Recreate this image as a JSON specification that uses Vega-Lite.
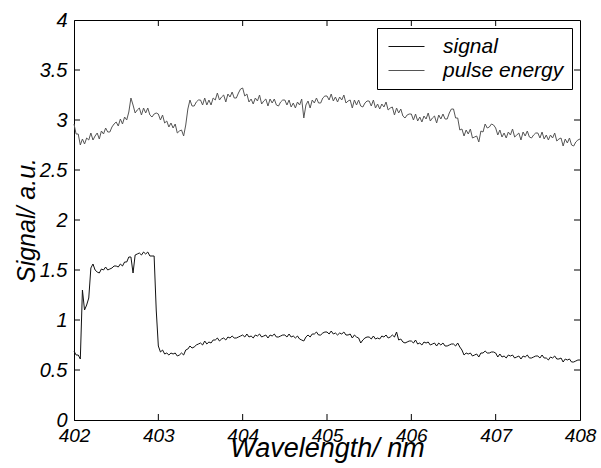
{
"$schema":"https://vega.github.io/schema/vega-lite/v6.json",
"width":506,"height":400,"autosize":"none",
"padding":{"left":74,"top":20,"right":21,"bottom":48},
"background":"white",
"config":{
"view":{"stroke":"black","strokeWidth":1},
"font":"Liberation Sans",
"axis":{"labelFont":"Liberation Sans","labelFontStyle":"italic","labelFontSize":20,"labelColor":"black","labelFlush":false,"labelOverlap":false,"titleFont":"Liberation Sans","titleFontStyle":"italic","titleFontWeight":"normal","titleFontSize":26,"titleColor":"black","domainColor":"black","ticks":false,"grid":false},
"legend":{"orient":"top-right","offset":8,"strokeColor":"black","fillColor":"white","padding":8,"symbolOffset":11,"symbolType":"M-1.8,0H1.8","symbolStrokeWidth":1,"symbolSize":400,"labelFont":"Liberation Sans","labelFontStyle":"italic","labelFontSize":21,"labelColor":"black","labelOffset":26,"rowPadding":2,"cornerRadius":0,"zindex":2}
},
"datasets":{
"bt":[{"x":403,"y":0},{"x":404,"y":0},{"x":405,"y":0},{"x":406,"y":0},{"x":407,"y":0}],
"tt":[{"x":403,"y":4},{"x":404,"y":4},{"x":405,"y":4},{"x":406,"y":4},{"x":407,"y":4}],
"lt":[{"x":402,"y":0.5},{"x":402,"y":1},{"x":402,"y":1.5},{"x":402,"y":2},{"x":402,"y":2.5},{"x":402,"y":3},{"x":402,"y":3.5}],
"rt":[{"x":408,"y":0.5},{"x":408,"y":1},{"x":408,"y":1.5},{"x":408,"y":2},{"x":408,"y":2.5},{"x":408,"y":3},{"x":408,"y":3.5}],
"spec":[
{"w":402.000,"s":0.69,"p":2.96},{"w":402.025,"s":0.65,"p":2.86},{"w":402.050,"s":0.65,"p":2.86},{"w":402.075,"s":0.61,"p":2.75},{"w":402.100,"s":1.30,"p":2.81},
{"w":402.125,"s":1.10,"p":2.76},{"w":402.150,"s":1.15,"p":2.82},{"w":402.175,"s":1.22,"p":2.80},{"w":402.200,"s":1.52,"p":2.87},{"w":402.225,"s":1.56,"p":2.80},
{"w":402.250,"s":1.50,"p":2.84},{"w":402.275,"s":1.48,"p":2.87},{"w":402.300,"s":1.47,"p":2.81},{"w":402.325,"s":1.51,"p":2.89},{"w":402.350,"s":1.50,"p":2.86},
{"w":402.375,"s":1.53,"p":2.92},{"w":402.400,"s":1.50,"p":2.88},{"w":402.425,"s":1.51,"p":2.88},{"w":402.450,"s":1.52,"p":2.93},{"w":402.475,"s":1.54,"p":2.96},
{"w":402.500,"s":1.54,"p":2.98},{"w":402.525,"s":1.53,"p":2.94},{"w":402.550,"s":1.56,"p":3.01},{"w":402.575,"s":1.54,"p":2.96},{"w":402.600,"s":1.58,"p":3.03},
{"w":402.625,"s":1.58,"p":3.00},{"w":402.650,"s":1.63,"p":3.08},{"w":402.675,"s":1.63,"p":3.22},{"w":402.700,"s":1.47,"p":3.15},{"w":402.725,"s":1.65,"p":3.07},
{"w":402.750,"s":1.66,"p":3.10},{"w":402.775,"s":1.67,"p":3.12},{"w":402.800,"s":1.65,"p":3.05},{"w":402.825,"s":1.68,"p":3.12},{"w":402.850,"s":1.66,"p":3.07},
{"w":402.875,"s":1.68,"p":3.12},{"w":402.900,"s":1.64,"p":3.05},{"w":402.925,"s":1.64,"p":3.03},{"w":402.950,"s":1.64,"p":3.06},{"w":402.975,"s":1.10,"p":3.07},
{"w":403.000,"s":0.74,"p":3.06},{"w":403.025,"s":0.68,"p":3.00},{"w":403.050,"s":0.70,"p":3.05},{"w":403.075,"s":0.66,"p":2.97},{"w":403.100,"s":0.67,"p":2.99},
{"w":403.125,"s":0.65,"p":2.93},{"w":403.150,"s":0.67,"p":2.97},{"w":403.175,"s":0.66,"p":2.92},{"w":403.200,"s":0.67,"p":2.96},{"w":403.225,"s":0.64,"p":2.87},
{"w":403.250,"s":0.65,"p":2.89},{"w":403.275,"s":0.67,"p":2.90},{"w":403.300,"s":0.65,"p":2.84},{"w":403.325,"s":0.70,"p":2.95},{"w":403.350,"s":0.71,"p":3.11},
{"w":403.375,"s":0.74,"p":3.20},{"w":403.400,"s":0.72,"p":3.14},{"w":403.425,"s":0.73,"p":3.14},{"w":403.450,"s":0.75,"p":3.18},{"w":403.475,"s":0.76,"p":3.20},
{"w":403.500,"s":0.77,"p":3.20},{"w":403.525,"s":0.75,"p":3.15},{"w":403.550,"s":0.79,"p":3.22},{"w":403.575,"s":0.76,"p":3.15},{"w":403.600,"s":0.78,"p":3.20},
{"w":403.625,"s":0.77,"p":3.15},{"w":403.650,"s":0.80,"p":3.22},{"w":403.675,"s":0.80,"p":3.20},{"w":403.700,"s":0.82,"p":3.27},{"w":403.725,"s":0.79,"p":3.20},
{"w":403.750,"s":0.81,"p":3.23},{"w":403.775,"s":0.82,"p":3.25},{"w":403.800,"s":0.80,"p":3.18},{"w":403.825,"s":0.83,"p":3.26},{"w":403.850,"s":0.82,"p":3.23},
{"w":403.875,"s":0.84,"p":3.28},{"w":403.900,"s":0.82,"p":3.22},{"w":403.925,"s":0.82,"p":3.22},{"w":403.950,"s":0.83,"p":3.27},{"w":403.975,"s":0.84,"p":3.31},
{"w":404.000,"s":0.85,"p":3.32},{"w":404.025,"s":0.83,"p":3.24},{"w":404.050,"s":0.86,"p":3.26},{"w":404.075,"s":0.83,"p":3.18},{"w":404.100,"s":0.84,"p":3.21},
{"w":404.125,"s":0.82,"p":3.16},{"w":404.150,"s":0.85,"p":3.22},{"w":404.175,"s":0.84,"p":3.19},{"w":404.200,"s":0.86,"p":3.25},{"w":404.225,"s":0.83,"p":3.16},
{"w":404.250,"s":0.84,"p":3.19},{"w":404.275,"s":0.85,"p":3.21},{"w":404.300,"s":0.82,"p":3.14},{"w":404.325,"s":0.85,"p":3.21},{"w":404.350,"s":0.84,"p":3.17},
{"w":404.375,"s":0.86,"p":3.21},{"w":404.400,"s":0.83,"p":3.15},{"w":404.425,"s":0.83,"p":3.14},{"w":404.450,"s":0.84,"p":3.18},{"w":404.475,"s":0.85,"p":3.20},
{"w":404.500,"s":0.85,"p":3.20},{"w":404.525,"s":0.83,"p":3.15},{"w":404.550,"s":0.86,"p":3.20},{"w":404.575,"s":0.83,"p":3.13},{"w":404.600,"s":0.84,"p":3.17},
{"w":404.625,"s":0.82,"p":3.12},{"w":404.650,"s":0.84,"p":3.18},{"w":404.675,"s":0.81,"p":3.15},{"w":404.700,"s":0.80,"p":3.21},{"w":404.725,"s":0.79,"p":3.02},
{"w":404.750,"s":0.83,"p":3.15},{"w":404.775,"s":0.85,"p":3.19},{"w":404.800,"s":0.83,"p":3.12},{"w":404.825,"s":0.86,"p":3.20},{"w":404.850,"s":0.86,"p":3.17},
{"w":404.875,"s":0.88,"p":3.22},{"w":404.900,"s":0.85,"p":3.17},{"w":404.925,"s":0.85,"p":3.17},{"w":404.950,"s":0.87,"p":3.22},{"w":404.975,"s":0.88,"p":3.24},
{"w":405.000,"s":0.88,"p":3.24},{"w":405.025,"s":0.86,"p":3.20},{"w":405.050,"s":0.89,"p":3.26},{"w":405.075,"s":0.86,"p":3.19},{"w":405.100,"s":0.87,"p":3.23},
{"w":405.125,"s":0.85,"p":3.18},{"w":405.150,"s":0.87,"p":3.23},{"w":405.175,"s":0.86,"p":3.20},{"w":405.200,"s":0.88,"p":3.25},{"w":405.225,"s":0.85,"p":3.17},
{"w":405.250,"s":0.85,"p":3.19},{"w":405.275,"s":0.86,"p":3.20},{"w":405.300,"s":0.82,"p":3.12},{"w":405.325,"s":0.85,"p":3.20},{"w":405.350,"s":0.83,"p":3.15},
{"w":405.375,"s":0.82,"p":3.20},{"w":405.400,"s":0.77,"p":3.14},{"w":405.425,"s":0.80,"p":3.13},{"w":405.450,"s":0.82,"p":3.17},{"w":405.475,"s":0.83,"p":3.19},
{"w":405.500,"s":0.83,"p":3.19},{"w":405.525,"s":0.81,"p":3.14},{"w":405.550,"s":0.84,"p":3.20},{"w":405.575,"s":0.81,"p":3.12},{"w":405.600,"s":0.82,"p":3.16},
{"w":405.625,"s":0.81,"p":3.11},{"w":405.650,"s":0.84,"p":3.16},{"w":405.675,"s":0.83,"p":3.13},{"w":405.700,"s":0.85,"p":3.18},{"w":405.725,"s":0.82,"p":3.10},
{"w":405.750,"s":0.83,"p":3.12},{"w":405.775,"s":0.85,"p":3.13},{"w":405.800,"s":0.83,"p":3.05},{"w":405.825,"s":0.88,"p":3.12},{"w":405.850,"s":0.80,"p":3.07},
{"w":405.875,"s":0.81,"p":3.11},{"w":405.900,"s":0.78,"p":3.04},{"w":405.925,"s":0.77,"p":3.02},{"w":405.950,"s":0.78,"p":3.05},{"w":405.975,"s":0.79,"p":3.06},
{"w":406.000,"s":0.79,"p":3.06},{"w":406.025,"s":0.77,"p":3.00},{"w":406.050,"s":0.80,"p":3.06},{"w":406.075,"s":0.76,"p":2.99},{"w":406.100,"s":0.77,"p":3.03},
{"w":406.125,"s":0.75,"p":2.98},{"w":406.150,"s":0.78,"p":3.04},{"w":406.175,"s":0.77,"p":3.01},{"w":406.200,"s":0.78,"p":3.07},{"w":406.225,"s":0.75,"p":2.99},
{"w":406.250,"s":0.76,"p":3.02},{"w":406.275,"s":0.77,"p":3.04},{"w":406.300,"s":0.74,"p":2.97},{"w":406.325,"s":0.77,"p":3.05},{"w":406.350,"s":0.75,"p":3.01},
{"w":406.375,"s":0.77,"p":3.06},{"w":406.400,"s":0.74,"p":3.01},{"w":406.425,"s":0.74,"p":3.01},{"w":406.450,"s":0.75,"p":3.07},{"w":406.475,"s":0.76,"p":3.11},
{"w":406.500,"s":0.76,"p":3.11},{"w":406.525,"s":0.74,"p":3.02},{"w":406.550,"s":0.77,"p":3.02},{"w":406.575,"s":0.73,"p":2.90},{"w":406.600,"s":0.70,"p":2.91},
{"w":406.625,"s":0.65,"p":2.84},{"w":406.650,"s":0.67,"p":2.90},{"w":406.675,"s":0.66,"p":2.86},{"w":406.700,"s":0.67,"p":2.91},{"w":406.725,"s":0.64,"p":2.82},
{"w":406.750,"s":0.65,"p":2.83},{"w":406.775,"s":0.66,"p":2.84},{"w":406.800,"s":0.63,"p":2.78},{"w":406.825,"s":0.67,"p":2.89},{"w":406.850,"s":0.67,"p":2.88},
{"w":406.875,"s":0.69,"p":2.96},{"w":406.900,"s":0.67,"p":2.92},{"w":406.925,"s":0.67,"p":2.93},{"w":406.950,"s":0.68,"p":2.96},{"w":406.975,"s":0.68,"p":2.95},
{"w":407.000,"s":0.67,"p":2.92},{"w":407.025,"s":0.63,"p":2.85},{"w":407.050,"s":0.66,"p":2.90},{"w":407.075,"s":0.63,"p":2.83},{"w":407.100,"s":0.64,"p":2.87},
{"w":407.125,"s":0.62,"p":2.82},{"w":407.150,"s":0.65,"p":2.88},{"w":407.175,"s":0.64,"p":2.85},{"w":407.200,"s":0.65,"p":2.91},{"w":407.225,"s":0.62,"p":2.83},
{"w":407.250,"s":0.63,"p":2.85},{"w":407.275,"s":0.64,"p":2.87},{"w":407.300,"s":0.61,"p":2.80},{"w":407.325,"s":0.64,"p":2.88},{"w":407.350,"s":0.63,"p":2.84},
{"w":407.375,"s":0.65,"p":2.89},{"w":407.400,"s":0.62,"p":2.83},{"w":407.425,"s":0.62,"p":2.82},{"w":407.450,"s":0.63,"p":2.85},{"w":407.475,"s":0.64,"p":2.87},
{"w":407.500,"s":0.64,"p":2.87},{"w":407.525,"s":0.62,"p":2.82},{"w":407.550,"s":0.65,"p":2.88},{"w":407.575,"s":0.62,"p":2.81},{"w":407.600,"s":0.62,"p":2.85},
{"w":407.625,"s":0.60,"p":2.80},{"w":407.650,"s":0.63,"p":2.85},{"w":407.675,"s":0.62,"p":2.82},{"w":407.700,"s":0.64,"p":2.87},{"w":407.725,"s":0.61,"p":2.79},
{"w":407.750,"s":0.61,"p":2.81},{"w":407.775,"s":0.62,"p":2.82},{"w":407.800,"s":0.58,"p":2.74},{"w":407.825,"s":0.61,"p":2.81},{"w":407.850,"s":0.60,"p":2.77},
{"w":407.875,"s":0.61,"p":2.82},{"w":407.900,"s":0.58,"p":2.75},{"w":407.925,"s":0.58,"p":2.74},{"w":407.950,"s":0.59,"p":2.78},{"w":407.975,"s":0.60,"p":2.80},
{"w":408.000,"s":0.60,"p":2.81}
]},
"layer":[
{"data":{"name":"spec"},
"transform":[{"fold":["s","p"],"as":["k","v"]}],
"mark":{"type":"line","strokeWidth":1},
"encoding":{
"x":{"field":"w","type":"quantitative","scale":{"domain":[402,408],"nice":false},"axis":{"title":"Wavelength/ nm","titleFontSize":27,"labelFontSize":19,"values":[402,403,404,405,406,407,408],"format":"d","labelPadding":6,"titlePadding":-10}},
"y":{"field":"v","type":"quantitative","scale":{"domain":[0,4],"nice":false},"axis":{"title":"Signal/ a.u.","titleFontSize":25,"values":[0,0.5,1,1.5,2,2.5,3,3.5,4],"format":"~g","labelPadding":7,"titlePadding":0}},
"color":{"field":"k","type":"nominal","sort":["s","p"],"scale":{"domain":["s","p"],"range":["#111111","#555555"]},"legend":{"title":null,"labelExpr":"datum.value == 's' ? 'signal' : 'pulse energy'"}}
}},
{"data":{"name":"bt"},
"mark":{"type":"rule","color":"black","strokeWidth":1,"y2Offset":-6},
"encoding":{
"x":{"field":"x","type":"quantitative","axis":null},
"y":{"field":"y","type":"quantitative","axis":null},
"y2":{"field":"y"}
}},
{"data":{"name":"tt"},
"mark":{"type":"rule","color":"black","strokeWidth":1,"y2Offset":6},
"encoding":{
"x":{"field":"x","type":"quantitative","axis":null},
"y":{"field":"y","type":"quantitative","axis":null},
"y2":{"field":"y"}
}},
{"data":{"name":"lt"},
"mark":{"type":"rule","color":"black","strokeWidth":1,"x2Offset":6},
"encoding":{
"x":{"field":"x","type":"quantitative","axis":null},
"x2":{"field":"x"},
"y":{"field":"y","type":"quantitative","axis":null}
}},
{"data":{"name":"rt"},
"mark":{"type":"rule","color":"black","strokeWidth":1,"x2Offset":-6},
"encoding":{
"x":{"field":"x","type":"quantitative","axis":null},
"x2":{"field":"x"},
"y":{"field":"y","type":"quantitative","axis":null}
}}
],
"resolve":{"axis":{"x":"independent","y":"independent"}}
}
